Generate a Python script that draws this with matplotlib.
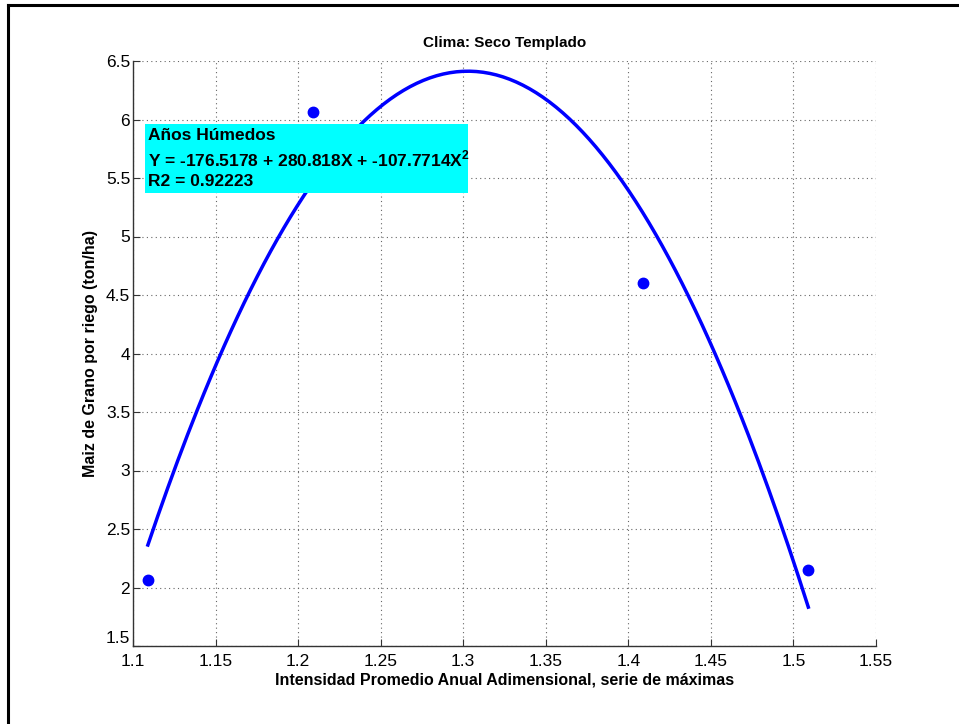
"""Maiz de grano por riego vs intensidad promedio anual (clima seco templado)."""

import matplotlib
matplotlib.use("Agg")
import matplotlib.pyplot as plt
import numpy as np
from matplotlib.lines import Line2D
from matplotlib.patches import Rectangle

# observed points
intensidad = [1.109, 1.209, 1.409, 1.509]
maiz = [2.06, 6.06, 4.60, 2.15]

# quadratic fit, as printed in the chart (c0 + c1*X + c2*X^2)
fit_coefs = [-176.5178, 280.818, -107.7714]
fit_r2 = 0.92223
fit_xrange = [1.109, 1.509]

x_ticks = [1.1, 1.15, 1.2, 1.25, 1.3, 1.35, 1.4, 1.45, 1.5, 1.55]
y_ticks = [1.5, 2, 2.5, 3, 3.5, 4, 4.5, 5, 5.5, 6, 6.5]

plt.rcParams["font.family"] = ["Liberation Sans", "DejaVu Sans"]
plt.rcParams["mathtext.fontset"] = "custom"
plt.rcParams["mathtext.rm"] = "Liberation Sans"
plt.rcParams["mathtext.bf"] = "Liberation Sans:bold"

fig = plt.figure(figsize=(9.59, 7.24), dpi=100)
ax = fig.add_axes([133 / 959, 1 - 646 / 724, (876 - 133) / 959, (646 - 61) / 724])

xf = np.linspace(fit_xrange[0], fit_xrange[1], 200)
yf = np.polyval(fit_coefs[::-1], xf)
ax.plot(xf, yf, color="#0000ff", lw=2.5, zorder=3)
ax.plot(intensidad, maiz, "o", color="#0000ff", ms=7.5, zorder=4)

ax.set_xlim(1.1, 1.55)
ax.set_ylim(1.5, 6.5)
ax.set_xticks(x_ticks)
ax.set_xticklabels([f"{v:g}" for v in x_ticks])
ax.set_yticks(y_ticks)
ax.set_yticklabels([f"{v:g}" for v in y_ticks])
ax.tick_params(direction="in", length=5, width=0.8, labelsize=12.5, colors="#333333",
               labelcolor="black")
ax.tick_params(axis="x", pad=6)
ax.tick_params(axis="y", pad=2)
# lowest y label sits a bit higher so it clears the first x label
ax.get_yticklabels()[0].set_verticalalignment("bottom")
ax.grid(True, linestyle=(0, (1, 3)), color="#666666", lw=0.8)
for s in ("top", "right"):
    ax.spines[s].set_visible(False)
for s in ("left", "bottom"):
    ax.spines[s].set_color("#333333")
    ax.spines[s].set_linewidth(1.0)

ax.set_title("Clima: Seco Templado", fontsize=11, fontweight="bold", pad=10)
ax.set_xlabel("Intensidad Promedio Anual Adimensional, serie de máximas",
              fontsize=11.5, fontweight="bold", labelpad=2)
ax.set_ylabel("Maiz de Grano por riego (ton/ha)", fontsize=11.5, fontweight="bold",
              labelpad=6)

# cyan annotation box with the fit
ax.add_patch(Rectangle((1.1073, 5.37), 1.3027 - 1.1073, 5.96 - 5.37,
                       facecolor="#00ffff", edgecolor="none", zorder=5))
label = ("Años Húmedos\n"
         f"Y = {fit_coefs[0]} + {fit_coefs[1]}X + {fit_coefs[2]}X$^{{\\mathbf{{2}}}}$\n"
         f"R2 = {fit_r2}")
ax.text(1.1092, 5.93, label, fontsize=12.5, fontweight="bold", va="top", ha="left",
        linespacing=1.35, zorder=6)

# figure border (left and top only, as in the screenshot)
fig.add_artist(Line2D([8 / 959, 8 / 959], [0, 1 - 5 / 724], color="black", lw=2.2,
                      transform=fig.transFigure))
fig.add_artist(Line2D([8 / 959, 1], [1 - 5 / 724, 1 - 5 / 724], color="black", lw=2.2,
                      transform=fig.transFigure))

fig.savefig("out.png", dpi=100)
